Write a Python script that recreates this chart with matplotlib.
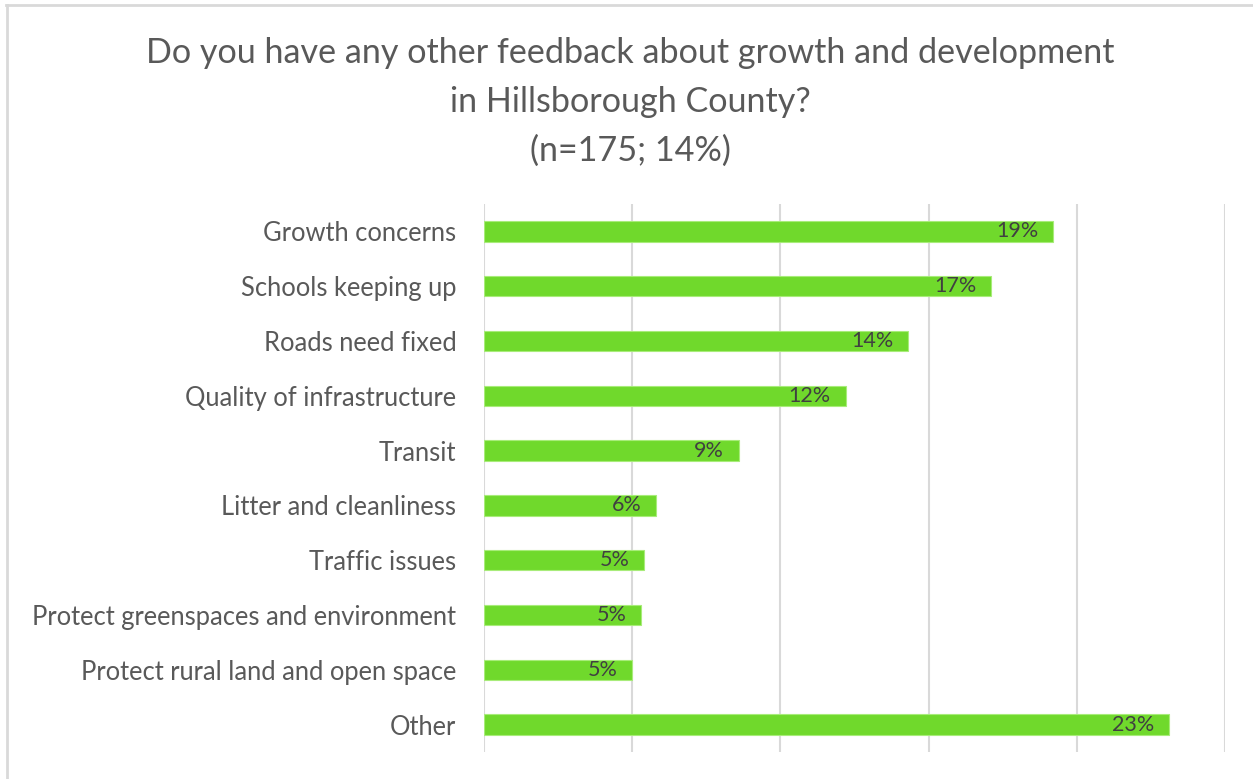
import matplotlib
matplotlib.use("Agg")
import matplotlib.pyplot as plt
from matplotlib.lines import Line2D

plt.rcParams['font.family'] = ['Lato', 'DejaVu Sans']

categories = [
    "Growth concerns",
    "Schools keeping up",
    "Roads need fixed",
    "Quality of infrastructure",
    "Transit",
    "Litter and cleanliness",
    "Traffic issues",
    "Protect greenspaces and environment",
    "Protect rural land and open space",
    "Other",
]
shares = [19.2, 17.1, 14.3, 12.2, 8.6, 5.8, 5.4, 5.3, 5.0, 23.1]
grid_ticks = [0, 5, 10, 15, 20, 25]

title = ("Do you have any other feedback about growth and development\n"
         "in Hillsborough County?\n(n=175; 14%)")

BAR = "#70d92c"
TEXT = "#595959"

fig = plt.figure(figsize=(12.53, 7.79), dpi=100)
ax = fig.add_axes([0.3863, 0.0347, 0.5914, 0.7034])

y = range(len(categories))
ax.barh(y, shares, height=0.37, color=BAR, edgecolor="#a8ec7a", linewidth=0.8, zorder=3)
for yi, v in zip(y, shares):
    ax.text(v - 0.5, yi, f"{v:.0f}%", ha="right", va="center",
            fontsize=15.5, color="#404040", zorder=4)

ax.set_xlim(0, 25)
ax.set_ylim(len(categories) - 0.5, -0.5)
ax.set_xticks(grid_ticks)
ax.set_xticklabels([])
ax.grid(axis="x", color="#d9d9d9", linewidth=1.5, zorder=0)
ax.set_yticks(list(y))
ax.set_yticklabels(categories, fontsize=18.4, color=TEXT)
ax.tick_params(axis="both", length=0, pad=20)
for s in ax.spines.values():
    s.set_visible(False)

fig.text(0.503, 0.953, title, ha="center", va="top", fontsize=24.6,
         color=TEXT, linespacing=1.66)

# thin frame on the top and left edges
fig.add_artist(Line2D([6 / 1253, 1], [1 - 5 / 779] * 2, color="#d9d9d9", linewidth=2))
fig.add_artist(Line2D([6.5 / 1253] * 2, [0, 1 - 5 / 779], color="#d9d9d9", linewidth=2))

fig.savefig("out.png", dpi=100)
